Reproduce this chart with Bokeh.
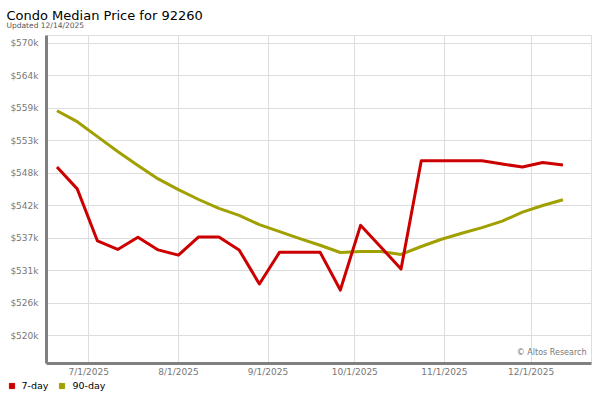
from datetime import datetime
import numpy as np
import pandas as pd
from bokeh.plotting import figure
from bokeh.layouts import column
from bokeh.models import (Label, Legend, LegendItem, FixedTicker, CustomJSTickFormatter,
                          Range1d, ColumnDataSource, Title)
from bokeh.embed import file_html
from bokeh.resources import INLINE

# ---- data ----
dates = pd.date_range("2025-06-20", periods=26, freq="7D")
price_7day = [548860, 545120, 536210, 534750, 536840, 534680, 533780, 536890, 536890,
              534680, 528850, 534290, 534290, 534290, 527810, 538880, 535190, 531400,
              549930, 549930, 549930, 549930, 549370, 548860, 549640, 549200]
price_90day = [558480, 556610, 554060, 551510, 549130, 546820, 545000, 543300, 541770,
               540580, 538990, 537810, 536620, 535480, 534240, 534410, 534410, 533900,
               535260, 536500, 537520, 538490, 539610, 541140, 542280, 543250]
x_tick_dates = ["2025-07-01", "2025-08-01", "2025-09-01", "2025-10-01", "2025-11-01", "2025-12-01"]
y_tick_values = list(np.linspace(520000, 570000, 10))
series_labels = ["7-day", "90-day"]
title_text = "Condo Median Price for 92260"
subtitle_text = "Updated 12/14/2025"
credit_text = "\u00a9 Altos Research"

RED = "#cc0000"
OLIVE = "#a0a000"
FONT = "DejaVu Sans"

src = ColumnDataSource(data=dict(date=dates, p7=price_7day, p90=price_90day))

p = figure(width=592, height=379, x_axis_type="datetime", output_backend="svg",
           toolbar_location=None,
           x_range=Range1d(datetime(2025, 6, 16, 9), datetime(2025, 12, 21, 21)),
           y_range=Range1d(515250, 571350),
           min_border_left=46, min_border_right=1, min_border_top=35, min_border_bottom=14)
p.frame_align = False
p.background_fill_color = "white"
p.border_fill_color = "white"
p.outline_line_color = "#dddddd"
p.outline_line_width = 1

r90 = p.line("date", "p90", source=src, line_color=OLIVE, line_width=3, line_join="round")
r7 = p.line("date", "p7", source=src, line_color=RED, line_width=3, line_join="round")

# axes
xticks = [pd.Timestamp(d).value / 1e6 for d in x_tick_dates]
p.xaxis.ticker = FixedTicker(ticks=xticks)
p.xaxis.formatter = CustomJSTickFormatter(code="""
const d = new Date(tick);
return (d.getUTCMonth()+1) + "/" + d.getUTCDate() + "/" + d.getUTCFullYear();
""")
p.yaxis.ticker = FixedTicker(ticks=y_tick_values)
p.yaxis.formatter = CustomJSTickFormatter(code="""
return "$" + Math.round(tick/1000) + "k";
""")
for ax in (p.xaxis, p.yaxis):
    ax.axis_line_color = "#808080"
    ax.axis_line_width = 3
    ax.major_tick_line_color = None
    ax.minor_tick_line_color = None
    ax.major_tick_out = 0
    ax.major_tick_in = 0
    ax.minor_tick_out = 0
    ax.minor_tick_in = 0
    ax.major_label_text_font = FONT
    ax.major_label_text_font_size = "9px"
    ax.major_label_text_color = "#777777"
p.xaxis.major_label_standoff = 3
p.yaxis.major_label_standoff = 8

p.grid.grid_line_color = "#dddddd"
p.grid.grid_line_width = 1

# titles
p.title.text = title_text
p.title.text_font = FONT
p.title.text_font_size = "13px"
p.title.text_font_style = "normal"
p.title.text_color = "black"
p.title.align = "left"
p.title.offset = -40
p.title.standoff = -12.7
sub = Title(text=subtitle_text, text_font=FONT, text_font_size="7.5px",
            text_font_style="normal", text_color="#555555", align="left",
            offset=-40, standoff=8.4, vertical_align="top")
p.add_layout(sub, "above")

p.add_layout(Label(x=540, y=10.7, x_units="screen", y_units="screen", text=credit_text,
                   text_font=FONT, text_font_size="8px", text_baseline="middle",
                   text_align="right", text_color="#777777"))

# legend strip (square swatches) under the chart
lf = figure(width=592, height=13, output_backend="svg", toolbar_location=None,
            x_axis_location=None, y_axis_location=None, min_border=0,
            x_range=Range1d(0, 1), y_range=Range1d(0, 1))
lf.frame_align = False
lf.grid.visible = False
lf.outline_line_color = None
lf.background_fill_color = "white"
lf.border_fill_color = "white"
# swatch renderers: their single point lies outside the strip's range, only the legend shows them
s7 = lf.scatter(x=[-5], y=[-5], marker="square", color=RED)
s90 = lf.scatter(x=[-5], y=[-5], marker="square", color=OLIVE)
legend = Legend(items=[LegendItem(label=series_labels[0], renderers=[s7]),
                       LegendItem(label=series_labels[1], renderers=[s90])],
                orientation="horizontal", location=(4.5, 0),
                glyph_width=13, glyph_height=13, label_height=13, label_standoff=4,
                spacing=7, padding=0, margin=0, border_line_alpha=0,
                background_fill_alpha=0, label_text_font=FONT,
                label_text_font_size="9.5px", label_text_font_style="normal",
                label_text_color="black")
lf.add_layout(legend, "center")

layout = column(p, lf, spacing=0)
open("out.html", "w").write(file_html(layout, INLINE))
